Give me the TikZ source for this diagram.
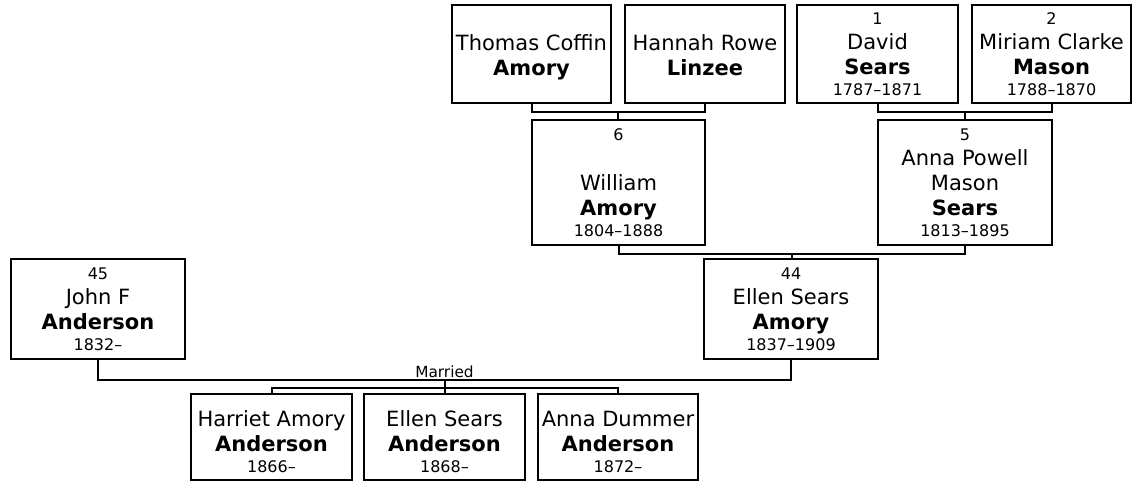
\documentclass[tikz,border=0pt]{standalone}
\usepackage{fontspec}
\setmainfont{DejaVu Sans}
\usetikzlibrary{calc}
\newcommand\sm[1]{{\fontsize{12}{13}\selectfont #1}}
\newcommand\mydepth{\rule[-5pt]{0pt}{5pt}}
\newcommand\person[6]{\node[person, minimum width={(#4-#2)*0.75pt}, minimum height={(#5-#3)*0.75pt}] (#1) at ({(#2+#4)/2},{(#3+#5)/2}) {#6};}
\begin{document}
\begin{tikzpicture}[x=0.75pt,y=-0.75pt,
  person/.style={draw, line width=1.5pt, align=center, inner sep=0pt, font=\fontsize{15.75}{18.75}\selectfont},
  link/.style={line width=1.5pt},
  lbl/.style={font=\fontsize{11.5}{13}\selectfont, inner sep=1.5pt}]
\useasboundingbox (0,0) rectangle (1134,481);
\person{T}{452}{5}{611}{103}{\rule{0pt}{18pt}Thomas Coffin\\\textbf{Amory}\mydepth}
\person{H}{625}{5}{785}{103}{\rule{0pt}{18pt}Hannah Rowe\\\textbf{Linzee}\mydepth}
\person{D}{797}{5}{958}{103}{\sm{1}\\David\\\textbf{Sears}\\[-3pt]\sm{1787–1871}}
\person{M}{972}{5}{1131}{103}{\sm{2}\\Miriam Clarke\\\textbf{Mason}\\[-3pt]\sm{1788–1870}}
\person{W}{532}{120}{705}{245}{\sm{6}\\\mbox{}\\William\\\textbf{Amory}\\[-3pt]\sm{1804–1888}}
\person{A}{878}{120}{1052}{245}{\sm{5}\\Anna Powell\\Mason\\\textbf{Sears}\\[-3pt]\sm{1813–1895}}
\person{E}{704}{259}{878}{359}{\sm{44}\\Ellen Sears\\\textbf{Amory}\\[-3pt]\sm{1837–1909}}
\person{J}{11}{259}{185}{359}{\sm{45}\\John F\\\textbf{Anderson}\\[-3pt]\sm{1832–}}
\person{C1}{191}{394}{352}{480}{\rule{0pt}{19pt}Harriet Amory\\\textbf{Anderson}\\[-3pt]\sm{1866–}}
\person{C2}{364}{394}{525}{480}{\rule{0pt}{19pt}Ellen Sears\\\textbf{Anderson}\\[-3pt]\sm{1868–}}
\person{C3}{538}{394}{698}{480}{\rule{0pt}{19pt}Anna Dummer\\\textbf{Anderson}\\[-3pt]\sm{1872–}}
% Amory / Linzee
\coordinate (th) at ($(T.south)!.5!(H.south)+(0,8)$);
\draw[link] (T.south) |- (th) -| (H.south);
\draw[link] (th) -- (th |- W.north);
% Sears / Mason
\coordinate (dm) at ($(D.south)!.5!(M.south)+(0,8)$);
\draw[link] (D.south) |- (dm) -| (M.south);
\draw[link] (dm) -- (dm |- A.north);
% Amory / Sears
\coordinate (wa) at ($(W.south)!.5!(A.south)+(0,8)$);
\draw[link] (W.south) |- (wa) -| (A.south);
\draw[link] (wa) -- (wa |- E.north);
% Anderson / Amory
\coordinate (jm) at ($(J.south)+(0,20)$);
\coordinate (em) at (E.south |- jm);
\draw[link] (J.south) -- (jm) -- (em) -- (E.south);
\coordinate (cb) at ($(jm)!.5!(em)$);
\node[lbl, above] (mar) at (cb) {Married};
\coordinate (kids) at ($(cb)+(0,8)$);
\draw[link] (cb) -- (kids);
\draw[link] (C1.north) |- (kids) -| (C3.north);
\draw[link] (kids) -- (C2.north);
\end{tikzpicture}
\end{document}
